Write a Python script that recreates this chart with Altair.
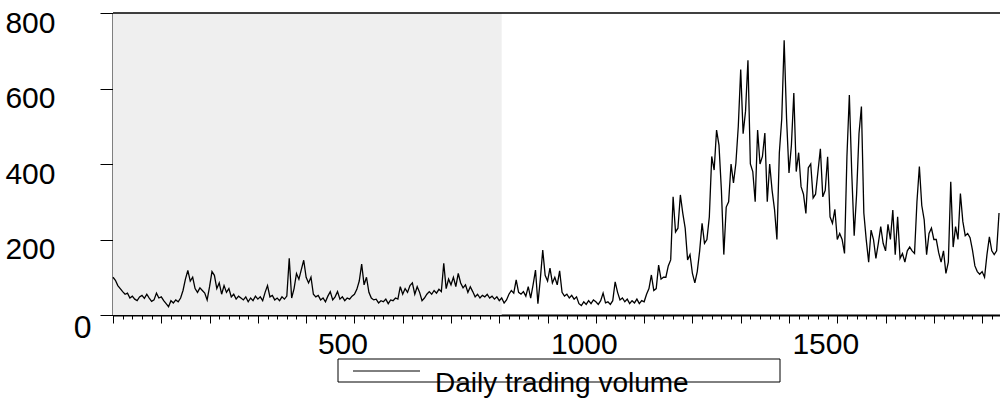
import altair as alt
import pandas as pd

# ---- data (daily trading volume, one value every 5 days) ----
seg_a = [100, 92, 78, 70, 62, 55, 58, 45, 50, 42, 38, 48, 52, 44, 55, 45, 36, 40, 58, 45,
         48, 38, 30, 22, 38, 32, 40, 35, 45, 65, 95, 118, 90, 100, 70, 60, 72, 65, 58, 40,
         75, 115, 105, 70, 85, 55, 78, 60, 70, 48, 55, 42, 50, 45, 40, 48, 35, 45, 38, 50,
         42, 48, 38, 60, 78, 48, 52, 40, 45, 38, 48, 42, 50, 150, 45, 70, 110, 95, 120, 145,
         100]
seg_b = [85, 100, 55, 48, 52, 40, 45, 35, 50, 62,
         40, 48, 62, 42, 48, 38, 45, 42, 50, 55,
         68, 90, 135, 80, 100, 60, 45, 40, 42, 32,
         38, 35, 42, 30, 40, 38, 45, 42, 75, 55,
         70, 60, 78, 85, 55, 75, 60, 38, 45, 55,
         62, 55, 65, 58, 68, 62, 137, 70, 95, 80,
         100, 75, 110, 85, 72, 80, 60, 75, 62, 48,
         55, 45, 52, 48, 55, 45, 50, 42, 48, 38,
         45, 32]
seg_c = [40, 55, 65, 58, 93, 60, 55, 62, 50, 75,
         45, 80, 119, 30, 95, 172, 105, 90, 124, 85,
         100, 80, 117, 60, 50, 55, 45, 52, 42, 48,
         30, 25, 35, 28, 38, 30, 40, 35, 28, 38,
         58, 32, 35, 28, 38, 88, 60, 40, 45, 35,
         42, 30, 38, 32, 42, 30, 38, 35, 55, 70,
         106, 65, 70, 132, 95, 100]
seg_d = [100, 130, 146, 313, 220, 230, 318, 270, 230, 146,
         160, 110, 85, 115, 170, 243, 190, 200, 260, 420,
         384, 490, 450, 331, 160, 286, 300, 400, 350, 402,
         500, 650, 480, 540, 675, 400, 380, 300, 490, 400,
         420, 482, 300, 400, 330, 280, 200, 430, 520, 728,
         520, 376, 450, 588, 380, 430, 340, 320, 269, 390,
         400, 310, 320, 380, 440]
seg_e = [313, 330, 419, 260, 243, 280, 200, 216, 200, 163,
         420, 583, 375, 210, 320, 481, 552, 270, 199, 140,
         225, 200, 150, 190, 234, 190, 170, 240, 200, 278,
         160, 260, 150, 163, 140, 170, 180, 170, 163, 300,
         393, 290, 252, 160, 216, 230, 200, 200, 165, 140,
         170, 110, 140, 353, 180, 234, 200, 322, 248, 210,
         216, 205, 172, 130, 115, 108, 115, 100, 160, 207,
         170, 160, 170, 270]

volume = seg_a + seg_b + seg_c + seg_d + seg_e
day = [5 * i for i in range(len(volume))]

shade_start = 0
shade_end = 805
legend_label = "Daily trading volume"
x_ticks = list(range(0, 1837, 20))
y_ticks = [0, 200, 400, 600, 800]

df = pd.DataFrame({"day": day, "volume": volume})
shade_df = pd.DataFrame({"day": [shade_start], "day_end": [shade_end]})
label_df = pd.DataFrame({"label": [legend_label]})

# ---- layout ----
W, H = 887, 302
FONT = "Liberation Sans"

xscale = alt.Scale(domain=[0, 1837], nice=False, zero=False)
yscale = alt.Scale(domain=[0, 800], nice=False)

x_axis = alt.Axis(
    values=x_ticks, title=None, format="d", grid=False,
    tickSize={"condition": {"test": "datum.value % 100 === 0", "value": 8}, "value": 4},
    tickColor="black", tickWidth=1,
    domainColor="black", domainWidth=2,
    labelExpr="(datum.value % 500 === 0 && datum.value > 0) ? datum.label : ''",
    labelOverlap=False, labelFlush=False,
    labelFont=FONT, labelFontSize=30, labelColor="black",
    labelBaseline="top", labelPadding=6, labelOffset=-12,
)
y_axis = alt.Axis(
    values=y_ticks, title=None, format="d", grid=False,
    tickSize=13, tickColor="black", tickWidth=1,
    domainColor="black", domainWidth=2,
    labelOverlap=False, labelFlush=False,
    labelFont=FONT,
    labelFontSize={"condition": {"test": "datum.value === 0", "value": 32}, "value": 30},
    labelColor="black",
    labelBaseline="middle",
    labelPadding={"condition": {"test": "datum.value === 0", "value": 9}, "value": 45},
    labelOffset={"condition": {"test": "datum.value === 0", "value": 12}, "value": 10},
)

shade = alt.Chart(shade_df).mark_rect(color="#efefef").encode(
    x=alt.X("day:Q", scale=xscale, axis=x_axis),
    x2="day_end:Q",
    y=alt.value(0), y2=alt.value(H),
)

line = alt.Chart(df).mark_line(color="black", strokeWidth=1.3).encode(
    x=alt.X("day:Q", scale=xscale, axis=x_axis),
    y=alt.Y("volume:Q", scale=yscale, axis=y_axis),
)

top_border = alt.Chart(label_df).mark_rule(color="black", strokeWidth=1.5).encode(
    x=alt.value(0), x2=alt.value(W), y=alt.value(0)
)

legend_box = alt.Chart(label_df).mark_rect(fill="white", stroke="black", strokeWidth=1).encode(
    x=alt.value(225), x2=alt.value(667), y=alt.value(346), y2=alt.value(369)
)
legend_line = alt.Chart(label_df).mark_rule(color="black", strokeWidth=1).encode(
    x=alt.value(240), x2=alt.value(307), y=alt.value(358)
)
legend_text = alt.Chart(label_df).mark_text(
    align="left", baseline="alphabetic", font=FONT, fontSize=28, color="black"
).encode(x=alt.value(322), y=alt.value(379), text="label:N")

chart = alt.layer(
    shade, line, top_border, legend_box, legend_line, legend_text
).properties(
    width=W, height=H,
    autosize=alt.AutoSizeParams(type="none"),
    padding={"left": 113, "top": 13, "right": 0, "bottom": 84},
    background="white",
).configure_view(stroke=None)

chart.save("out.html", embed_options={"renderer": "svg", "actions": False})
